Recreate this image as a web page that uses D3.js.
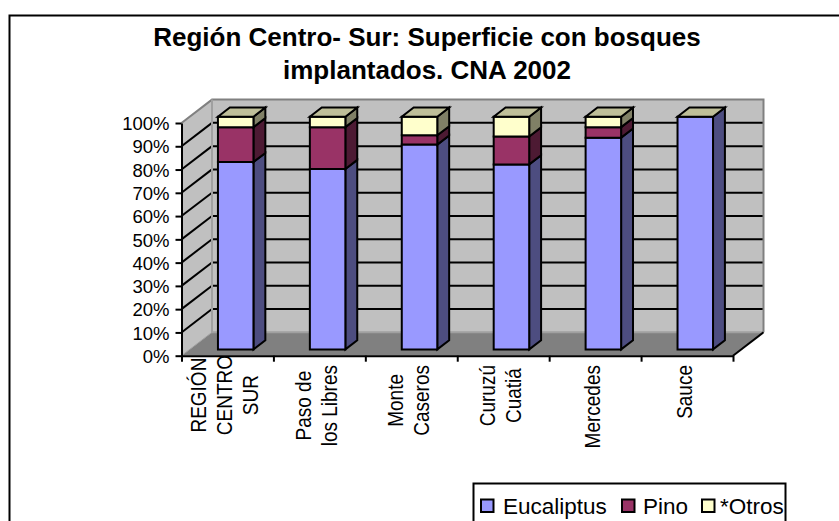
<!DOCTYPE html>
<html>
<head>
<meta charset="utf-8">
<style>
  body { margin: 0; background: #fff; }
  svg { display: block; }
  text { font-family: "Liberation Sans", Arial, sans-serif; fill: #000; }
</style>
<script src="https://d3js.org/d3.v7.min.js"></script>
</head>
<body>
<div id="chart"></div>
<script>
const titleLines = ["Región Centro- Sur: Superficie con bosques", "implantados. CNA 2002"]
const categories = ["REGIÓN CENTRO SUR", "Paso de los Libres", "Monte Caseros", "Curuzú Cuatiá", "Mercedes", "Sauce"]
const categoryLines = [["REGIÓN", "CENTRO", "SUR"], ["Paso de", "los Libres"], ["Monte", "Caseros"], ["Curuzú", "Cuatiá"], ["Mercedes"], ["Sauce"]]
const seriesNames = ["Eucaliptus", "Pino", "*Otros"]
const eucaliptus = [80.5, 77.5, 88, 79.5, 91, 100]
const pino = [15, 18, 4, 12, 4.5, 0]
const otros = [4.5, 4.5, 8, 8.5, 4.5, 0]
const yTicks = [0, 10, 20, 30, 40, 50, 60, 70, 80, 90, 100]

const width = 839, height = 521
const colors = ["#9999FF", "#993366", "#FFFFCC"]
const sideColors = ["#4D4D80", "#4D1A33", "#808066"]
const topColor = "#BFBF99"
const series = [eucaliptus, pino, otros]

const svg = d3.select("#chart").append("svg").attr("width", width).attr("height", height)

// frame runs off the right and bottom of the picture
svg.append("rect").attr("x", 9.5).attr("y", 15.5).attr("width", 900).attr("height", 600)
  .attr("fill", "#fff").attr("stroke", "#000").attr("stroke-width", 2)

svg.selectAll(".title").data(titleLines).enter().append("text")
  .attr("x", 427).attr("y", (d, i) => 46 + i * 33)
  .attr("text-anchor", "middle").style("font-size", "26px").style("font-weight", "bold")
  .text(d => d)

const x = d3.scaleBand().domain(categories).range([181.5, 733]).padding(0)
const xEdge = d3.scaleLinear().domain([0, 6]).range([181.5, 733])
const y = d3.scaleLinear().domain([0, 100]).range([355.7, 123])
const depthX = 30.5, depthY = 23.4   // full depth of the floor
const barW = 35.5, z0 = 0.27, z1 = 0.66
const px = (sx, z) => sx + z * depthX
const py = (v, z) => y(v) - z * depthY
const poly = pts => "M" + pts.map(p => p.join(",")).join("L") + "Z"

// category labels go under the floor, the first one is cut by it
categoryLines.forEach((lines, i) => {
  const g = svg.append("g")
  const t = g.selectAll("text").data(lines).enter().append("text")
    .attr("text-anchor", "middle").style("font-size", "19px").text(d => d)
  const longest = d3.max(t.nodes(), n => n.getComputedTextLength())
  const cy = (i == 0 ? 355 : 365) + longest / 2
  const cx = x(categories[i]) + x.bandwidth() / 2 - 3
  // rotated text in the reference is a bit thicker across
  t.attr("transform", (d, j) => "translate(" + (cx + (j - (lines.length - 1) / 2) * 26 + 8) + "," + cy + ") rotate(-90) scale(1,1.15)")
})

// walls and floor
svg.append("path").attr("fill", "#C0C0C0")
  .attr("d", poly([[xEdge(0), y(0)], [xEdge(0), y(100)], [px(xEdge(0), 1), py(100, 1)], [px(xEdge(6), 1), py(100, 1)], [px(xEdge(6), 1), py(0, 1)], [px(xEdge(0), 1), py(0, 1)]]))
svg.append("path").attr("fill", "#808080")
  .attr("d", poly([[xEdge(0), y(0)], [xEdge(6), y(0)], [px(xEdge(6), 1), py(0, 1)], [px(xEdge(0), 1), py(0, 1)]]))

// gridlines
const gridVals = yTicks.filter(v => v > 0 && v < 100)
svg.selectAll(".gridBack").data(gridVals).enter().append("line")
  .attr("x1", px(xEdge(0), 1)).attr("x2", px(xEdge(6), 1))
  .attr("y1", d => py(d, 1)).attr("y2", d => py(d, 1))
  .attr("stroke", "#000").attr("stroke-width", 2)
svg.selectAll(".gridSide").data(gridVals).enter().append("line")
  .attr("x1", xEdge(0)).attr("x2", px(xEdge(0), 1))
  .attr("y1", d => py(d, 0)).attr("y2", d => py(d, 1))
  .attr("stroke", "#000").attr("stroke-width", 2)

// gray wall edges
svg.append("path").attr("fill", "none").attr("stroke", "#808080").attr("stroke-width", 2)
  .attr("d", "M" + xEdge(0) + "," + y(100) + "L" + px(xEdge(0), 1) + "," + py(100, 1) + "L" + px(xEdge(6), 1) + "," + py(100, 1) + "L" + px(xEdge(6), 1) + "," + py(0, 1))
svg.append("path").attr("fill", "none").attr("stroke", "#A0A0A0").attr("stroke-width", 2)
  .attr("d", "M" + px(xEdge(0), 1) + "," + py(100, 1) + "L" + px(xEdge(0), 1) + "," + py(0, 1) + "L" + px(xEdge(6), 1) + "," + py(0, 1))
svg.append("line").attr("x1", xEdge(0)).attr("y1", y(0)).attr("x2", px(xEdge(0), 1)).attr("y2", py(0, 1))
  .attr("stroke", "#A0A0A0").attr("stroke-width", 1)
svg.append("line").attr("x1", xEdge(6)).attr("y1", y(0)).attr("x2", px(xEdge(6), 1)).attr("y2", py(0, 1))
  .attr("stroke", "#000").attr("stroke-width", 2)

// stacked bars, drawn series by series from the bottom
const bars = svg.append("g").attr("stroke", "#000").attr("stroke-width", 2).attr("stroke-linejoin", "miter")
categories.forEach((cat, i) => {
  const left = x(cat) + x.bandwidth() / 2 - barW / 2
  const right = left + barW
  let base = 0
  series.forEach((vals, s) => {
    const v = vals[i]
    if (v > 0) {
      const top = base + v
      bars.append("path").attr("fill", sideColors[s])
        .attr("d", poly([[px(right, z0), py(base, z0)], [px(right, z1), py(base, z1)], [px(right, z1), py(top, z1)], [px(right, z0), py(top, z0)]]))
      bars.append("path").attr("fill", colors[s])
        .attr("d", poly([[px(left, z0), py(base, z0)], [px(right, z0), py(base, z0)], [px(right, z0), py(top, z0)], [px(left, z0), py(top, z0)]]))
    }
    base += v
  })
  bars.append("path").attr("fill", topColor)
    .attr("d", poly([[px(left, z0), py(base, z0)], [px(right, z0), py(base, z0)], [px(right, z1), py(base, z1)], [px(left, z1), py(base, z1)]]))
})

// axes
const yAxis = svg.append("g").attr("transform", "translate(" + xEdge(0) + ",0)")
  .call(d3.axisLeft(y).tickValues(yTicks).tickSize(6).tickSizeOuter(0).tickFormat(d => d + "%"))
yAxis.selectAll("line,path").attr("stroke", "#000").attr("stroke-width", 2)
yAxis.selectAll("text").style("font-size", "18.5px").attr("x", -12).attr("dy", "0.36em")

const xAxis = svg.append("g").attr("transform", "translate(0," + y(0) + ")")
  .call(d3.axisBottom(xEdge).tickValues(d3.range(0, 7)).tickSize(6).tickSizeOuter(0).tickFormat(""))
xAxis.selectAll("line,path").attr("stroke", "#000").attr("stroke-width", 2)

// legend, its box also runs off the bottom
const legend = svg.append("g")
legend.append("rect").attr("x", 473.5).attr("y", 483.5).attr("width", 312).attr("height", 60)
  .attr("fill", "#fff").attr("stroke", "#000").attr("stroke-width", 2)
const swatchX = [481, 622, 702], labelX = [503, 643, 720]
seriesNames.forEach((name, i) => {
  legend.append("rect").attr("x", swatchX[i]).attr("y", 499.5).attr("width", 12.5).attr("height", 12.5)
    .attr("fill", colors[i]).attr("stroke", "#000").attr("stroke-width", 2)
  legend.append("text").attr("x", labelX[i]).attr("y", 514).style("font-size", "22.5px").text(name)
})
</script>
</body>
</html>
